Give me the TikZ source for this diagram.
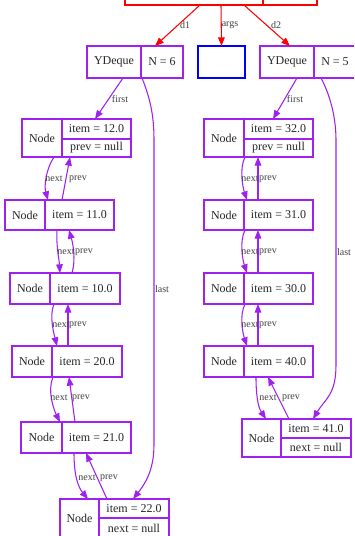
\documentclass[tikz,border=0pt]{standalone}
\usepackage{fontspec}
\setmainfont{Liberation Serif}
\usetikzlibrary{arrows.meta,calc}
\definecolor{gvpurple}{HTML}{A020F0}
\newcommand\mkcell[7][pcell]{\node[#1,minimum width={(#5-#3)*0.75pt},minimum height={(#6-#4)*0.75pt}] (#2) at ({(#3+#5)/2},{(#4+#6)/2}) {#7};}
\tikzset{
  cellbox/.style={draw, line width=0.8pt, inner sep=0pt, outer sep=0pt, font=\fontsize{9}{10}\selectfont, text=black!85},
  pcell/.style={cellbox, draw=gvpurple},
  rcell/.style={cellbox, draw=red},
  bcell/.style={cellbox, draw=blue},
  pedge/.style={draw=gvpurple, line width=0.8pt, -{Triangle[length=6.5pt,width=5pt]}},
  redge/.style={draw=red, line width=0.8pt, -{Triangle[length=6.5pt,width=5pt]}},
  elabel/.style={font=\fontsize{7.5}{8}\selectfont, inner sep=0pt, text=black!75}
}
\begin{document}
\begin{tikzpicture}[x=0.75pt,y=-0.75pt]
\fill[white] (0,0) rectangle (354,536);
\useasboundingbox (0,0) rectangle (354,536);
\clip (0,0) rectangle (354,536);
% top record
\mkcell[rcell]{Ta}{125}{-20}{263}{5}{}
\mkcell[rcell]{Tb}{263}{-20}{317}{5}{}
% deques
\mkcell{D1a}{87}{46}{141}{78}{YDeque}
\mkcell{D1b}{141}{46}{183}{78}{N = 6}
\mkcell[bcell]{B}{198}{46}{245}{78}{}
\mkcell{D2a}{260}{46}{314}{78}{YDeque}
\mkcell{D2b}{314}{46}{356}{78}{N = 5}
% left chain
\mkcell{L1a}{22}{119}{62}{157}{Node}
\mkcell{L1b}{62}{119}{131}{139}{item = 12.0}
\mkcell{L1c}{62}{139}{131}{157}{prev = null}
\mkcell{L2a}{5}{200}{45}{230}{Node}
\mkcell{L2b}{45}{200}{114}{230}{item = 11.0}
\mkcell{L3a}{10}{273}{50}{304}{Node}
\mkcell{L3b}{50}{273}{120}{304}{item = 10.0}
\mkcell{L4a}{12}{346}{52}{377}{Node}
\mkcell{L4b}{52}{346}{122}{377}{item = 20.0}
\mkcell{L5a}{21}{422}{62}{453}{Node}
\mkcell{L5b}{62}{422}{131}{453}{item = 21.0}
\mkcell{L6a}{60}{499}{99}{538}{Node}
\mkcell{L6b}{99}{499}{169}{518}{item = 22.0}
\mkcell{L6c}{99}{518}{169}{538}{next = null}
% right chain
\mkcell{R1a}{204}{119}{244}{157}{Node}
\mkcell{R1b}{244}{119}{313}{139}{item = 32.0}
\mkcell{R1c}{244}{139}{313}{157}{prev = null}
\mkcell{R2a}{204}{200}{244}{230}{Node}
\mkcell{R2b}{244}{200}{313}{230}{item = 31.0}
\mkcell{R3a}{204}{273}{244}{304}{Node}
\mkcell{R3b}{244}{273}{313}{304}{item = 30.0}
\mkcell{R4a}{204}{346}{244}{377}{Node}
\mkcell{R4b}{244}{346}{313}{377}{item = 40.0}
\mkcell{R5a}{242}{419}{281}{457}{Node}
\mkcell{R5b}{281}{419}{351}{438}{item = 41.0}
\mkcell{R5c}{281}{438}{351}{457}{next = null}
% red edges
\draw[redge] ($(Ta.south west)+(75,0)$) -- ($(D1b.north west)+(14,0)$);
\draw[redge] ($(Ta.south west)+(96,0)$) -- (B.north);
\draw[redge] ($(Ta.south west)+(119,0)$) -- ($(D2a.north west)+(30,0)$);
\node[elabel] (ld1) at (185,25) {d1};
\node[elabel] (largs) at (230,25) {args};
\node[elabel] (ld2) at (276,25) {d2};
% first / last
\draw[pedge] ($(D1a.south west)+(36,0)$) -- ($(L1b.north west)+(33,0)$);
\draw[pedge] ($(D2a.south west)+(37,0)$) -- ($(R1b.north west)+(29,0)$);
\node[elabel] (lf1) at (120,99) {first};
\node[elabel] (lf2) at (295,99) {first};
\coordinate (lastL1) at (154,140);
\coordinate (lastL2) at (154,445);
\draw[pedge] ($(D1b.south west)+(1,0)$) .. controls +(8,20) and +(0,-25) .. (lastL1) -- (lastL2) .. controls +(0,25) and +(12,-15) .. ($(L6b.north west)+(34,0)$);
\coordinate (lastR1) at (336,140);
\coordinate (lastR2) at (336,365);
\draw[pedge] ($(D2b.south west)+(7,0)$) .. controls +(8,15) and +(0,-25) .. (lastR1) -- (lastR2) .. controls +(0,30) and +(12,-20) .. ($(R5b.north west)+(32,0)$);
\node[elabel] (ll1) at (162,289) {last};
\node[elabel] (ll2) at (344,252) {last};
% left next/prev
\draw[pedge] ($(L1a.south west)+(32,0)$) .. controls +(-8,12) and +(-4,-14) .. ($(L2b.north west)+(3,0)$);
\draw[pedge] ($(L2b.north west)+(17,0)$) -- ($(L1c.south west)+(8,0)$);
\node[elabel] (a1) at (54,179) {next};
\node[elabel] (a2) at (78,179) {prev};
\draw[pedge] ($(L2b.south west)+(12,0)$) .. controls +(-1,15) and +(-1,-15) .. ($(L3b.north west)+(10,0)$);
\draw[pedge] ($(L3b.north west)+(22,0)$) .. controls +(4,-14) and +(4,14) .. ($(L2b.south west)+(24,0)$);
\node[elabel] (a3) at (66,252) {next};
\node[elabel] (a4) at (84,252) {prev};
\draw[pedge] ($(L3b.south west)+(4,0)$) .. controls +(-5,12) and +(-3,-12) .. ($(L4b.north west)+(5,0)$);
\draw[pedge] ($(L4b.north west)+(16,0)$) -- ($(L3b.south west)+(18,0)$);
\node[elabel] (a5) at (61,325) {next};
\node[elabel] (a6) at (78,325) {prev};
\draw[pedge] ($(L4b.south west)+(1,0)$) .. controls +(-6,14) and +(-6,-12) .. ($(L5a.north west)+(39,0)$);
\draw[pedge] ($(L5b.north west)+(13,0)$) -- ($(L4b.south west)+(17,0)$);
\node[elabel] (a7) at (59,398) {next};
\node[elabel] (a8) at (81,398) {prev};
\draw[pedge] ($(L5b.south west)+(12,0)$) .. controls +(0,22) and +(-10,-12) .. ($(L6a.north west)+(28,0)$);
\draw[pedge] ($(L6b.north west)+(8,0)$) -- ($(L5b.south west)+(24,0)$);
\node[elabel] (a9) at (87,478) {next};
\node[elabel] (a10) at (109,478) {prev};
% right next/prev
\draw[pedge] ($(R1c.south west)+(1,0)$) .. controls +(-6,12) and +(-4,-12) .. ($(R2b.north west)+(3,0)$);
\draw[pedge] ($(R2b.north west)+(14,0)$) -- ($(R1c.south west)+(14,0)$);
\node[elabel] (b1) at (250,179) {next};
\node[elabel] (b2) at (268,179) {prev};
\draw[pedge] ($(R2b.south west)+(1,0)$) .. controls +(-6,12) and +(-4,-12) .. ($(R3b.north west)+(3,0)$);
\draw[pedge] ($(R3b.north west)+(14,0)$) -- ($(R2b.south west)+(14,0)$);
\node[elabel] (b3) at (250,252) {next};
\node[elabel] (b4) at (268,252) {prev};
\draw[pedge] ($(R3b.south west)+(1,0)$) .. controls +(-6,12) and +(-4,-12) .. ($(R4b.north west)+(3,0)$);
\draw[pedge] ($(R4b.north west)+(14,0)$) -- ($(R3b.south west)+(14,0)$);
\node[elabel] (b5) at (250,325) {next};
\node[elabel] (b6) at (268,325) {prev};
\draw[pedge] ($(R4b.south west)+(12,0)$) .. controls +(0,18) and +(-8,-12) .. ($(R5a.north west)+(24,0)$);
\draw[pedge] ($(R5b.north west)+(8,0)$) -- ($(R4b.south west)+(24,0)$);
\node[elabel] (b7) at (268,398) {next};
\node[elabel] (b8) at (291,398) {prev};
\end{tikzpicture}
\end{document}
